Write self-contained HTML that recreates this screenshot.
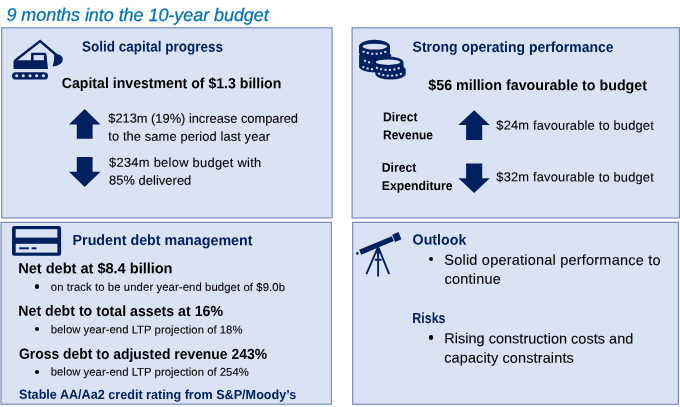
<!DOCTYPE html>
<html><head><meta charset="utf-8">
<style>
html,body{margin:0;padding:0;background:#fff;}
body{width:680px;height:407px;position:relative;overflow:hidden;font-family:"Liberation Sans",sans-serif;color:#000;}
.box{position:absolute;background:#dae3f3;border:1px solid #8a9dca;box-sizing:border-box;}
.t{position:absolute;white-space:nowrap;line-height:1;transform-origin:0 0;}
.b{font-weight:bold;}
.r{-webkit-text-stroke:0.1px currentColor;}
.i{-webkit-text-stroke:0.25px currentColor;}
.i{font-style:italic;}
.dot{position:absolute;border-radius:50%;background:#000;}
svg{position:absolute;left:0;top:0;}
</style></head><body>
<svg width="680" height="407" viewBox="0 0 680 407">
<g fill="#dae3f3" stroke="#7389bd" stroke-width="1.15">
<rect x="1.7" y="27.8" width="330.4" height="190.2"/>
<rect x="352.1" y="27.8" width="327.3" height="190.2"/>
<rect x="1.0" y="222.3" width="330.4" height="181.9"/>
<rect x="352.7" y="222.3" width="325.7" height="182"/>
</g>
<g fill="#002060" stroke="none">
<!-- arrows TL -->
<polygon points="84.7,108.9 100.5,124.4 92.6,124.4 92.6,138.8 76.8,138.8 76.8,124.4 68.9,124.4"/>
<polygon points="76.8,157 92.6,157 92.6,171.7 100.5,171.7 84.7,186.9 68.9,171.7 76.8,171.7"/>
<!-- arrows TR -->
<polygon points="474.2,110.3 489.8,125 482.2,125 482.2,139.9 466.1,139.9 466.1,125 458.4,125"/>
<polygon points="466.1,163.6 482.2,163.6 482.2,178.3 489.8,178.3 474.2,193.1 458.4,178.3 466.1,178.3"/>
</g>
<!-- excavator -->
<g fill="#002060">
<rect x="12" y="72.2" width="36" height="7.4" rx="3.7"/>
<path d="M13.5,61.2 L14.8,60.2 L31,60.2 L31,54 Q31,52.8 32.2,52.8 L45,52.8 Q46.2,52.8 46.4,54 L48,68.9 L13.5,68.9 Z"/>
<path d="M56,54 Q62.8,54.5 62.8,59.5 Q62.5,65.5 52.6,66.6 Q54.8,60 54.2,54.6 Z"/>
</g>
<path d="M14.6,61 L40.1,41.1 L56.4,55" fill="none" stroke="#002060" stroke-width="2.5" stroke-linejoin="miter"/>
<rect x="33.6" y="55.1" width="10.3" height="5.1" fill="#dae3f3"/>
<g fill="#dae3f3">
<circle cx="16.7" cy="75.8" r="1.55"/><circle cx="23.3" cy="75.8" r="1.55"/><circle cx="30" cy="75.8" r="1.55"/><circle cx="36.7" cy="75.8" r="1.55"/><circle cx="43.4" cy="75.8" r="1.55"/>
</g>
<!-- coins -->
<g>
<path d="M359.1,56 A16.1,6 0 0 1 391.3,56 L391.3,66.5 A16.1,6 0 0 1 359.1,66.5 Z" fill="#002060"/>
<path d="M359,46.4 A15.5,6.6 0 0 1 390,46.4 L390,52.5 A15.5,5.2 0 0 1 359,52.5 Z" fill="#002060"/>
<ellipse cx="374.8" cy="46.6" rx="12.3" ry="2.9" fill="#dae3f3"/>
<g fill="none" stroke="#dae3f3" stroke-width="2" stroke-dasharray="2,2.45">
<path d="M362.6,51.4 Q374.7,56.3 386.8,51.4"/>
<path d="M364.2,60.4 Q368,62.4 373,62.8"/>
<path d="M362.6,66.6 Q367,69 374.5,69.4"/>
</g>
<path d="M375.3,70 A15.2,6 0 0 1 405.7,70 L405.7,73.8 A15.2,5.8 0 0 1 375.3,73.8 Z" fill="#002060"/>
<path d="M373.5,62.4 A15,6 0 0 1 403.5,62.4 L403.5,68 A15,5 0 0 1 373.5,68 Z" fill="#002060"/>
<ellipse cx="388" cy="62.2" rx="12.2" ry="2.7" fill="#dae3f3"/>
<g fill="none" stroke="#dae3f3" stroke-width="2" stroke-dasharray="2,2.45">
<path d="M375.9,67.6 Q388.5,72.2 400.8,67.6"/>
<path d="M378.1,73.4 Q390.5,78 402.6,73.4"/>
</g>
</g>
<!-- card -->
<rect x="12" y="225.9" width="49.1" height="29.9" rx="2.2" fill="#002060"/>
<rect x="15.7" y="229.2" width="41.7" height="8.4" fill="#dae3f3"/>
<rect x="15.7" y="243.8" width="41.7" height="8.8" fill="#dae3f3"/>
<rect x="19.2" y="247.3" width="9.7" height="2" fill="#002060"/>
<rect x="31.6" y="247.3" width="4.8" height="2" fill="#002060"/>
<!-- telescope -->
<g fill="#002060" stroke="none">
<g transform="translate(377.5,245) rotate(-22.6)">
<rect x="-18.8" y="-2.7" width="35.4" height="5.4"/>
<rect x="17.5" y="-3.9" width="6.8" height="7.8"/>
<rect x="-23" y="-1.2" width="2.4" height="2.4"/>
</g>
<path d="M378.1,245 L381.3,253.5 L374.9,253.5 Z"/>
</g>
<g fill="none" stroke="#002060" stroke-width="1.9">
<path d="M378.1,248 L378.1,276.4 M377.6,248 L366.4,274.2 M378.6,248 L389.2,274.2 M374.7,259.7 L381.6,259.7"/>
</g>
</svg>

<div class="t r i" style="left:6px;top:5px;font-size:18.0px;letter-spacing:-0.058px;color:#0071b9;transform:matrix(1.0000,0.001,0,1,0.40,0.80);">9 months into the 10-year budget</div>
<div class="t b" style="left:82px;top:39px;font-size:14.7px;letter-spacing:0.000px;color:#002060;transform:matrix(0.9188,0.001,0,1,0.00,0.50);">Solid capital progress</div>
<div class="t b" style="left:61px;top:76px;font-size:14.7px;letter-spacing:0.000px;color:#000;transform:matrix(0.9605,0.001,0,1,0.80,0.00);">Capital investment of $1.3 billion</div>
<div class="t r" style="left:108px;top:112px;font-size:12.9px;letter-spacing:-0.032px;color:#000;transform:matrix(1.0000,0.001,0,1,0.30,0.60);">$213m (19%) increase compared</div>
<div class="t r" style="left:108px;top:130px;font-size:12.9px;letter-spacing:0.097px;color:#000;transform:matrix(1.0000,0.001,0,1,0.30,0.60);">to the same period last year</div>
<div class="t r" style="left:109px;top:156px;font-size:12.9px;letter-spacing:0.277px;color:#000;transform:matrix(1.0000,0.001,0,1,0.00,0.80);">$234m below budget with</div>
<div class="t r" style="left:109px;top:174px;font-size:12.9px;letter-spacing:0.050px;color:#000;transform:matrix(1.0000,0.001,0,1,0.00,0.60);">85% delivered</div>
<div class="t b" style="left:412px;top:39px;font-size:14.7px;letter-spacing:0.000px;color:#002060;transform:matrix(0.9504,0.001,0,1,0.60,0.80);">Strong operating performance</div>
<div class="t b" style="left:428px;top:78px;font-size:14.7px;letter-spacing:0.000px;color:#000;transform:matrix(0.9709,0.001,0,1,0.30,0.00);">$56 million favourable to budget</div>
<div class="t b" style="left:383px;top:111px;font-size:12.8px;letter-spacing:0.000px;color:#000;transform:matrix(0.9509,0.001,0,1,0.00,0.30);">Direct</div>
<div class="t b" style="left:383px;top:129px;font-size:12.8px;letter-spacing:0.000px;color:#000;transform:matrix(0.9373,0.001,0,1,0.00,0.30);">Revenue</div>
<div class="t r" style="left:496px;top:119px;font-size:12.9px;letter-spacing:0.172px;color:#000;transform:matrix(1.0000,0.001,0,1,0.30,0.60);">$24m favourable to budget</div>
<div class="t b" style="left:381px;top:161px;font-size:12.8px;letter-spacing:0.000px;color:#000;transform:matrix(0.9509,0.001,0,1,0.80,0.80);">Direct</div>
<div class="t b" style="left:381px;top:180px;font-size:12.8px;letter-spacing:0.000px;color:#000;transform:matrix(0.9560,0.001,0,1,0.80,0.00);">Expenditure</div>
<div class="t r" style="left:496px;top:171px;font-size:12.9px;letter-spacing:0.172px;color:#000;transform:matrix(1.0000,0.001,0,1,0.30,0.30);">$32m favourable to budget</div>
<div class="t b" style="left:72px;top:233px;font-size:14.7px;letter-spacing:0.000px;color:#002060;transform:matrix(0.9710,0.001,0,1,0.60,0.00);">Prudent debt management</div>
<div class="t b" style="left:18px;top:261px;font-size:14.7px;letter-spacing:-0.065px;color:#000;transform:matrix(1.0000,0.001,0,1,0.20,0.20);">Net debt at $8.4 billion</div>
<div class="t r" style="left:50px;top:281px;font-size:11.3px;letter-spacing:0.098px;color:#000;transform:matrix(1.0000,0.001,0,1,0.80,0.70);">on track to be under year-end budget of $9.0b</div>
<div class="t b" style="left:18px;top:303px;font-size:14.7px;letter-spacing:0.000px;color:#000;transform:matrix(0.9646,0.001,0,1,0.30,0.80);">Net debt to total assets at 16%</div>
<div class="t r" style="left:50px;top:324px;font-size:11.3px;letter-spacing:0.037px;color:#000;transform:matrix(1.0000,0.001,0,1,0.70,0.30);">below year-end LTP projection of 18%</div>
<div class="t b" style="left:19px;top:346px;font-size:14.7px;letter-spacing:0.000px;color:#000;transform:matrix(0.9465,0.001,0,1,0.00,0.80);">Gross debt to adjusted revenue 243%</div>
<div class="t r" style="left:50px;top:366px;font-size:11.3px;letter-spacing:0.037px;color:#000;transform:matrix(1.0000,0.001,0,1,0.70,0.60);">below year-end LTP projection of 254%</div>
<div class="t b" style="left:19px;top:387px;font-size:13.1px;letter-spacing:0.000px;color:#002060;transform:matrix(0.9633,0.001,0,1,0.00,0.80);">Stable AA/Aa2 credit rating from S&amp;P/Moody’s</div>
<div class="t b" style="left:412px;top:232px;font-size:14.7px;letter-spacing:0.000px;color:#002060;transform:matrix(0.9678,0.001,0,1,0.60,0.60);">Outlook</div>
<div class="t r" style="left:444px;top:252px;font-size:14.5px;letter-spacing:0.214px;color:#000;transform:matrix(1.0000,0.001,0,1,0.30,0.70);">Solid operational performance to</div>
<div class="t r" style="left:444px;top:271px;font-size:14.5px;letter-spacing:0.214px;color:#000;transform:matrix(1.0000,0.001,0,1,0.50,0.80);">continue</div>
<div class="t b" style="left:412px;top:311px;font-size:14.7px;letter-spacing:0.000px;color:#002060;transform:matrix(0.8469,0.001,0,1,0.30,0.00);">Risks</div>
<div class="t r" style="left:444px;top:331px;font-size:14.5px;letter-spacing:0.018px;color:#000;transform:matrix(1.0000,0.001,0,1,0.20,0.30);">Rising construction costs and</div>
<div class="t r" style="left:444px;top:350px;font-size:14.5px;letter-spacing:0.119px;color:#000;transform:matrix(1.0000,0.001,0,1,0.20,0.60);">capacity constraints</div>
<div class="dot" style="left:34.9px;top:284.4px;width:4.2px;height:4.2px;"></div><div class="dot" style="left:35.2px;top:327.3px;width:4.2px;height:4.2px;"></div><div class="dot" style="left:35.2px;top:370.2px;width:4.2px;height:4.2px;"></div><div class="dot" style="left:428.7px;top:256.8px;width:4.4px;height:4.4px;"></div><div class="dot" style="left:428.8px;top:335.2px;width:4.4px;height:4.4px;"></div>
</body></html>
